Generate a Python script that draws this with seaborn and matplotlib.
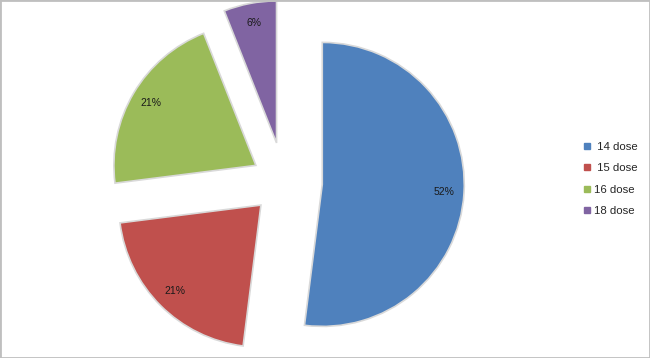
import matplotlib
matplotlib.use("Agg")
import matplotlib.pyplot as plt
import seaborn as sns
from matplotlib.lines import Line2D
from matplotlib.patches import Rectangle

categories = [" 14 dose", " 15 dose", "16 dose", "18 dose"]
values = [52, 21, 21, 6]
colors = ["#4F81BD", "#C0504D", "#9BBB59", "#8064A2"]
explode = [0.27, 0.23, 0.23, 0.28]

sns.set_theme(style="white")
plt.rcParams["font.family"] = ["Liberation Sans", "DejaVu Sans"]

W, H = 650, 358
cx, cy, r = 284, 182, 142
fig = plt.figure(figsize=(W / 100, H / 100), dpi=100)
ax = fig.add_axes([0, 0, 1, 1])
ax.axis("off")

wedges, texts, autotexts = ax.pie(
    values, colors=colors, explode=explode, startangle=90, counterclock=False,
    radius=1.0, autopct="%1.0f%%", pctdistance=0.86,
    wedgeprops=dict(edgecolor="#d9d9d9", linewidth=1.2),
    textprops=dict(fontsize=7.5, color="#1a1a1a"),
)
ax.set_xlim(-cx / r, (W - cx) / r)
ax.set_ylim(-(H - cy) / r, cy / r)
ax.set_aspect("auto")

handles = [Line2D([], [], marker="s", linestyle="none", markersize=4.5,
                  markerfacecolor=c, markeredgecolor=c) for c in colors]
fig.legend(handles, categories, loc="center left", bbox_to_anchor=(0.888, 0.5),
           frameon=False, fontsize=8.2, labelspacing=0.97, handlelength=0.8,
           handletextpad=0.15, borderpad=0)

fig.patches.append(Rectangle((0, 0), 1, 1, transform=fig.transFigure, fill=False,
                             edgecolor="#bfbfbf", linewidth=2, zorder=10))
fig.savefig("out.png", dpi=100)
